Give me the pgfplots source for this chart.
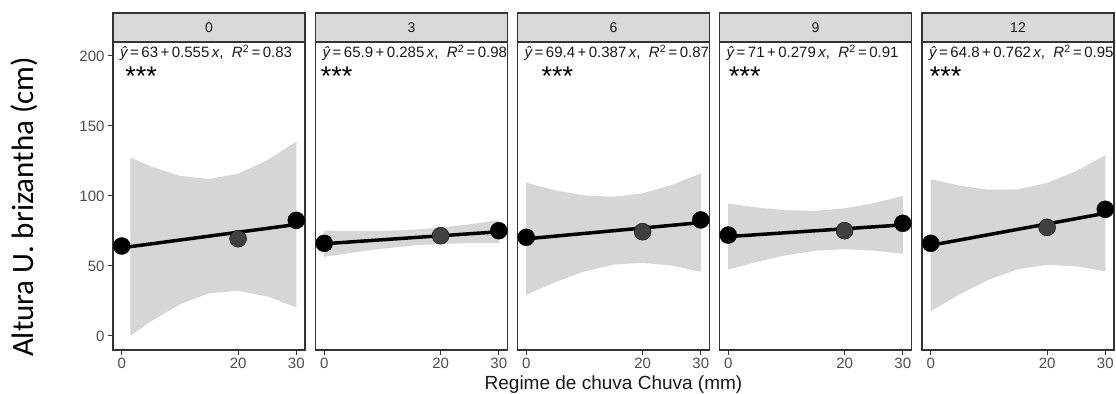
\documentclass[border=0pt]{standalone}
\usepackage{pgfplots}
\pgfplotsset{compat=1.18}
\usepackage{fontspec}
\setmainfont{Liberation Sans}
\newfontfamily\calib{Carlito}
\definecolor{bandgray}{RGB}{214,214,214}
\definecolor{framec}{RGB}{51,51,51}
\definecolor{ticklab}{RGB}{77,77,77}
\definecolor{stripfill}{RGB}{217,217,217}
\pgfplotsset{
 panel/.style={
  scale only axis, width=192bp, height=308bp,
  xmin=-1.5, xmax=31.5, ymin=-10, ymax=210,
  xtick={0,20,30}, ytick={0,50,100,150,200},
  axis line style={framec, line width=1.2bp},
  every tick/.style={framec, line width=1bp},
  tick align=outside, major tick length=5bp,
  xtick pos=bottom, ytick pos=left,
  tick label style={font=\fontsize{15bp}{17bp}\selectfont, text=ticklab},
  /pgf/number format/assume math mode=true,
  anchor=south west, clip=true,
 },
 pt/.style={only marks, mark=*, mark size=8.5bp, mark options={draw=none, fill=#1}},
 fit/.style={line width=3.5bp, black},
}
\tikzset{
 eq/.style={anchor=base west, font=\fontsize{15bp}{17bp}\selectfont, text=black!90, inner sep=0pt},
 st/.style={anchor=north west, font=\fontsize{27bp}{29bp}\selectfont, inner sep=0pt},
}
\newcommand{\eqn}[3]{{\itshape ŷ}\,=\,#1\,+\,#2\,{\itshape x},\; {\itshape R}\textsuperscript{2}\,=\,#3}
\newcommand{\strip}[2]{\draw[framec, line width=1.2bp, fill=stripfill] (#1.north west) rectangle ++(192bp,29bp);
  \node[font=\fontsize{14bp}{16bp}\selectfont, text=black!90] at ([yshift=14.5bp]#1.north) {#2};}
\begin{document}
\begin{tikzpicture}
\useasboundingbox (0,0) rectangle (1116bp,394bp);
% panel 0
\begin{axis}[panel, name=p0, at={(113bp,44bp)}]
\addplot[fill=bandgray, draw=none] coordinates {(1.5,127.5)(5,121.1)(10,114.4)(15,112.1)(20,115.9)(25,125.5)(30,138.8)(30,20.5)(25,28.3)(20,32.3)(15,30.5)(10,22.7)(5,10.4)(1.5,0.2)} -- cycle;
\addplot[pt=black] coordinates {(0,64.3)(30,82.6)};
\addplot[pt=black!75] coordinates {(20,69.5)};
\addplot[fit] coordinates {(0,63)(30,79.65)};
\node[eq] at (axis cs:-0.3,199) {\eqn{63}{0.555}{0.83}};
\node[st] at (axis cs:0.6,192) {***};
\end{axis}
% panel 3
\begin{axis}[panel, name=p1, at={(315.5bp,44bp)}, ytick=\empty]
\addplot[fill=bandgray, draw=none] coordinates {(0,75.25)(5,75.0)(10,75.1)(15,75.83)(20,77.4)(25,79.77)(30,82.65)(30,66.25)(25,66.29)(20,65.8)(15,64.53)(10,62.4)(5,59.66)(0,56.55)} -- cycle;
\addplot[pt=black] coordinates {(0,66.2)(30,75.2)};
\addplot[pt=black!75] coordinates {(20,71.6)};
\addplot[fit] coordinates {(0,65.9)(30,74.45)};
\node[eq] at (axis cs:-0.3,199) {\eqn{65.9}{0.285}{0.98}};
\node[st] at (axis cs:-0.6,192) {***};
\end{axis}
% panel 6
\begin{axis}[panel, name=p2, at={(517.5bp,44bp)}, ytick=\empty]
\addplot[fill=bandgray, draw=none] coordinates {(0,109.4)(5,104.1)(10,100.4)(15,99.4)(20,101.9)(25,107.9)(30,116.1)(30,45.9)(25,50.3)(20,52.3)(15,51.0)(10,46.1)(5,38.5)(0,29.4)} -- cycle;
\addplot[pt=black] coordinates {(0,70.5)(30,82.9)};
\addplot[pt=black!75] coordinates {(20,74.5)};
\addplot[fit] coordinates {(0,69.4)(30,81.0)};
\node[eq] at (axis cs:-0.3,199) {\eqn{69.4}{0.387}{0.87}};
\node[st] at (axis cs:2.6,192) {***};
\end{axis}
% panel 9
\begin{axis}[panel, name=p3, at={(719.5bp,44bp)}, ytick=\empty]
\addplot[fill=bandgray, draw=none] coordinates {(0,94.55)(5,91.75)(10,89.8)(15,89.4)(20,91.2)(25,94.9)(30,100.0)(30,58.8)(25,61.0)(20,62.0)(15,60.9)(10,57.8)(5,53.05)(0,47.45)} -- cycle;
\addplot[pt=black] coordinates {(0,72.1)(30,80.5)};
\addplot[pt=black!75] coordinates {(20,75.2)};
\addplot[fit] coordinates {(0,71)(30,79.37)};
\node[eq] at (axis cs:-0.3,199) {\eqn{71}{0.279}{0.91}};
\node[st] at (axis cs:0.1,192) {***};
\end{axis}
% panel 12
\begin{axis}[panel, name=p4, at={(922bp,44bp)}, ytick=\empty]
\addplot[fill=bandgray, draw=none] coordinates {(0,112.0)(5,107.35)(10,104.5)(15,104.77)(20,109.32)(25,117.88)(30,129.07)(30,46.25)(25,49.82)(20,50.76)(15,47.69)(10,40.34)(5,29.87)(0,17.6)} -- cycle;
\addplot[pt=black] coordinates {(0,66.2)(30,90.5)};
\addplot[pt=black!75] coordinates {(20,77.6)};
\addplot[fit] coordinates {(0,64.8)(30,87.66)};
\node[eq] at (axis cs:-0.3,199) {\eqn{64.8}{0.762}{0.95}};
\node[st] at (axis cs:-0.2,192) {***};
\end{axis}
\strip{p0}{0}
\strip{p1}{3}
\strip{p2}{6}
\strip{p3}{9}
\strip{p4}{12}
\node[rotate=90, anchor=base, inner sep=0pt, font=\calib\fontsize{31bp}{33bp}\selectfont] at (33bp,187bp) {Altura U. brizantha (cm)};
\node[font=\fontsize{19bp}{21bp}\selectfont, text=black!90] at (613.5bp,9bp) {Regime de chuva Chuva (mm)};
\end{tikzpicture}
\end{document}
